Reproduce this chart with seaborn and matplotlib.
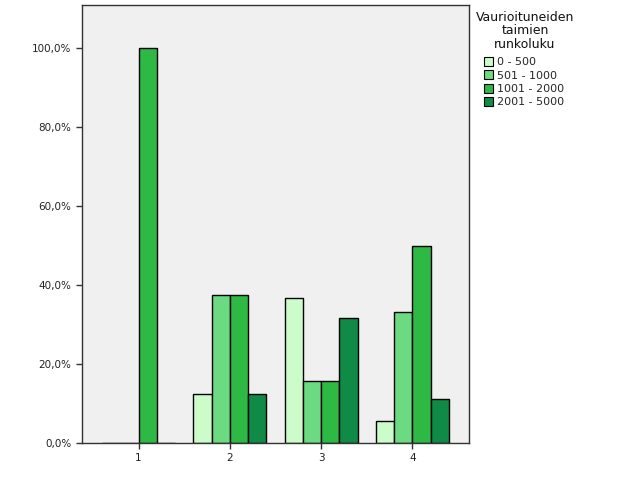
import matplotlib
matplotlib.use("Agg")
import matplotlib.pyplot as plt
import seaborn as sns
import pandas as pd
from matplotlib.ticker import FuncFormatter

groups = ["1", "2", "3", "4"]
series = ["0 - 500", "501 - 1000", "1001 - 2000", "2001 - 5000"]
vals_0_500 = [0.0, 12.5, 36.8, 5.6]
vals_501_1000 = [0.0, 37.5, 15.8, 33.3]
vals_1001_2000 = [100.0, 37.5, 15.8, 50.0]
vals_2001_5000 = [0.0, 12.5, 31.6, 11.1]
colors = ["#ccfcca", "#6cda80", "#2eb844", "#0f8b47"]
legend_title = "Vaurioituneiden\ntaimien\nrunkoluku"

rows = []
for s, vals in zip(series, [vals_0_500, vals_501_1000, vals_1001_2000, vals_2001_5000]):
    for g, v in zip(groups, vals):
        rows.append({"group": g, "series": s, "value": v})
df = pd.DataFrame(rows)

sns.set_style("white")
plt.rcParams["font.family"] = ["DejaVu Sans"]

fig = plt.figure(figsize=(6.26, 5.01), dpi=100)
ax = fig.add_axes([0.131, 0.116, 0.618, 0.874])
ax.set_facecolor("#f0f0f0")

sns.barplot(data=df, x="group", y="value", hue="series", order=groups,
            hue_order=series, palette=colors, saturation=1, width=0.8,
            edgecolor="black", linewidth=1.0, ax=ax, legend=True)

ax.set_xlim(-0.62, 3.62)
ax.set_ylim(0, 111)
ax.set_yticks([0, 20, 40, 60, 80, 100])
ax.yaxis.set_major_formatter(FuncFormatter(lambda v, p: f"{v:.1f}".replace(".", ",") + "%"))
ax.set_xlabel("")
ax.set_ylabel("")
ax.tick_params(axis="both", which="both", length=4, width=1, color="#333333",
               labelsize=7.5, labelcolor="#222222", left=True, bottom=True)
for sp in ax.spines.values():
    sp.set_color("#333333")
    sp.set_linewidth(1.0)

handles, labels = ax.get_legend_handles_labels()
ax.get_legend().remove()
fig.text(525 / 626, 1 - 11 / 501, legend_title, ha="center", va="top",
         fontsize=9, color="#111111", linespacing=1.05, multialignment="center")
leg = fig.legend(handles, labels, loc="upper left",
                 bbox_to_anchor=(484 / 626, 1 - 57 / 501),
                 frameon=False, fontsize=8, borderpad=0, borderaxespad=0,
                 handlelength=0.85, handleheight=0.85, handletextpad=0.35,
                 labelspacing=0.28)
for h in leg.legend_handles:
    h.set_edgecolor("black")
    h.set_linewidth(0.8)

fig.savefig("out.png", dpi=100)
